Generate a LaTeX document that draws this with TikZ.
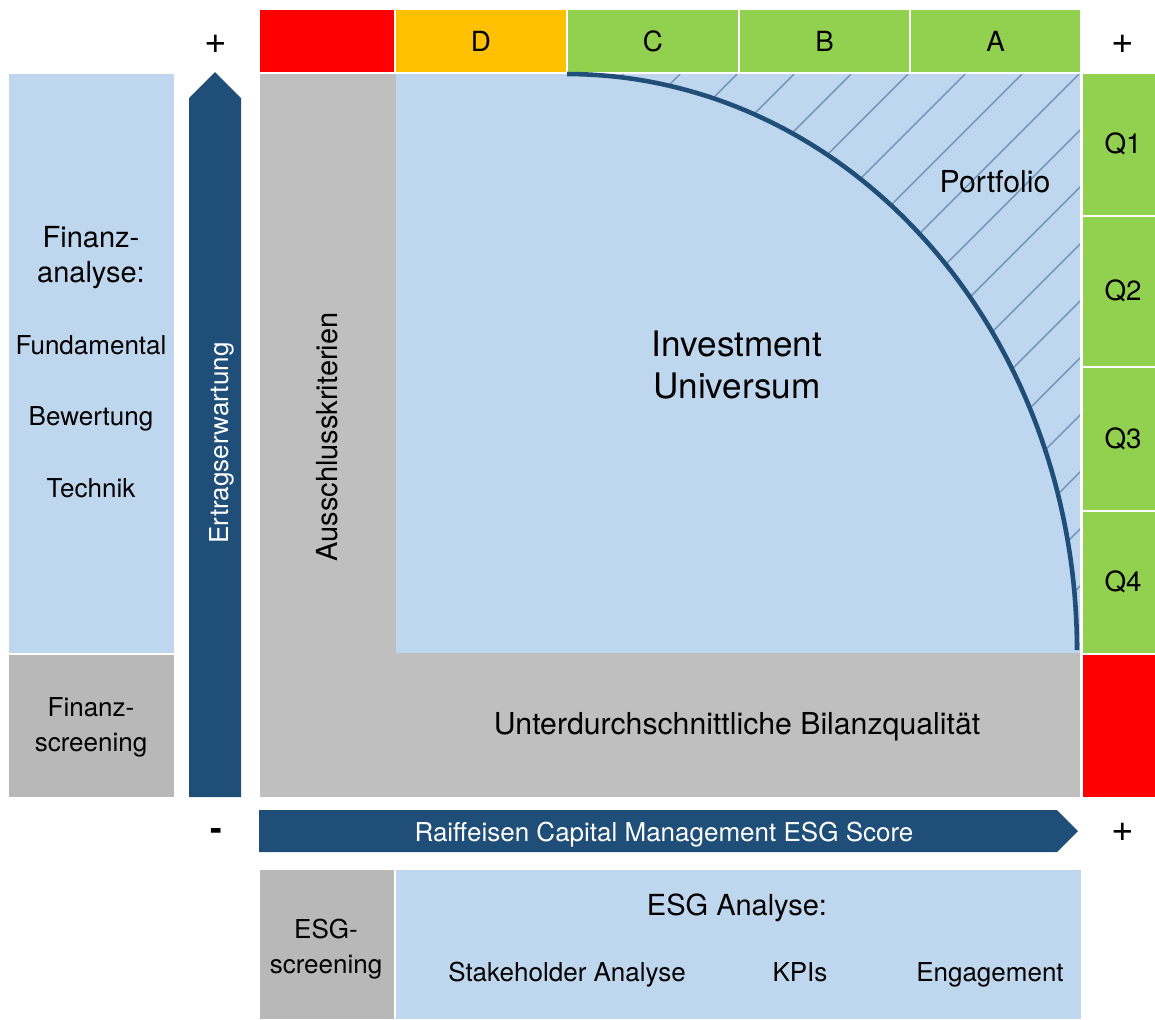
\documentclass[tikz,border=0pt]{standalone}
\usepackage{fontspec}
\setmainfont{TeX Gyre Heros}
\usepackage{xcolor}
\definecolor{colrouge}{rgb}{1,0,0}
\definecolor{colorange}{rgb}{1,0.753,0}
\definecolor{colvert}{rgb}{0.573,0.816,0.314}
\definecolor{colbleu}{rgb}{0.749,0.843,0.933}
\definecolor{colgris}{rgb}{0.749,0.749,0.749}
\definecolor{colgris2}{rgb}{0.722,0.722,0.722}
\definecolor{colbleuf}{rgb}{0.122,0.306,0.475}
\definecolor{colhach}{rgb}{0.435,0.573,0.722}

\begin{document}
\begin{tikzpicture}[x=0.02cm, y=-0.02cm,
		petit/.style={anchor=base, inner sep=0pt, font=\fontsize{14.8}{20}\selectfont},
		moyen/.style={anchor=base, inner sep=0pt, font=\fontsize{16.5}{20}\selectfont},
		lettre/.style={anchor=base, inner sep=0pt, font=\fontsize{15.8}{20}\selectfont},
		bloc/.style={inner sep=0pt, align=center, font=\fontsize{14.8}{20}\selectfont},
		signe/.style={inner sep=0pt, font=\fontsize{22}{24}\selectfont},
		hachure/.style={colhach, line width=0.8pt}]
	
	\useasboundingbox (0,0) rectangle (1155,1019);
	
	% Bandeau du haut (notes)
	\fill[colrouge]  (260,10) rectangle (394,72);
	\fill[colorange] (396,10) rectangle (566,72);
	\node[lettre] (D) at (481,51) {D};
	\foreach \xa/\xb/\lettre in {568/738/C, 740/909/B, 911/1080/A} {
		\fill[colvert] (\xa,10) rectangle (\xb,72);
		\node[lettre] (\lettre) at ({(\xa+\xb)/2},51) {\lettre};
	}
	
	% Colonne de droite (quartiles)
	\foreach \ya/\yb/\q in {74/215/1, 217/366/2, 368/510/3, 512/653/4} {
		\fill[colvert] (1083,\ya) rectangle (1155,\yb);
		\node[lettre] (q\q) at (1123,{(\ya+\yb)/2+9}) {Q\q};
	}
	\fill[colrouge] (1083,655) rectangle (1155,797);
	
	% Signes + et -
	\node[signe] (plusH) at (216,44) {+};
	\node[signe] (plusD) at (1123,44) {+};
	\node[signe] (plusB) at (1123,832) {+};
	\node[signe, font=\fontsize{20}{24}\selectfont\bfseries] (moins) at (216,834) {-};
	
	% Panneau de gauche
	\fill[colbleu]  (9,74) rectangle (174,653);
	\fill[colgris2] (9,655) rectangle (174,797);
	\node[bloc, font=\fontsize{16.5}{20}\selectfont] (fin) at (91,258) {Finanz-\\analyse:};
	\node[petit] (fond) at (91,354) {Fundamental};
	\node[petit] (bew)  at (91,425) {Bewertung};
	\node[petit] (tech) at (91,497) {Technik};
	\node[bloc] (finscr) at (91,727) {Finanz-\\screening};
	
	% Fleche verticale
	\fill[colbleuf] (189,797) -- (189,98) -- (215,72) -- (241,98) -- (241,797) -- cycle;
	\node[petit, anchor=base, rotate=90, text=white] (rend) at (228,443) {Ertragserwartung};
	
	% Zone grise en L et univers
	\fill[colgris] (260,74) rectangle (1080,797);
	\fill[colbleu] (396,74) rectangle (1080,653);
	\node[moyen, rotate=90] (excl) at (337,437) {Ausschlusskriterien};
	\node[moyen, font=\fontsize{17.2}{20}\selectfont] (bilan) at (737,734) {Unterdurchschnittliche Bilanzqualität};
	
	% Hachures du portefeuille
	\begin{scope}
		\clip (567,74) -- (1080,74) -- (1080,653)
			-- plot[domain=0:90, samples=80] ({567+510*cos(\x)},{650-576*sin(\x)}) -- cycle;
		\foreach \c in {697,754,...,1800}
			\draw[hachure] ({\c-74},74) -- ({\c-653},653);
	\end{scope}
	\draw[colbleuf, line width=2.6pt] plot[domain=0:90, samples=80] ({567+510*cos(\x)},{650-576*sin(\x)});
	\node[moyen, font=\fontsize{17.2}{20}\selectfont] (port) at (995,192) {Portfolio};
	\node[bloc, font=\fontsize{20}{24}\selectfont] (univ) at (737,365) {Investment\\Universum};
	
	% Fleche horizontale
	\fill[colbleuf] (259,810) -- (1057,810) -- (1078,831) -- (1057,852) -- (259,852) -- cycle;
	\node[petit, text=white] (score) at (664,841) {Raiffeisen Capital Management ESG Score};
	
	% Panneau du bas
	\fill[colgris2] (260,870) rectangle (394,1019);
	\fill[colbleu]  (396,870) rectangle (1081,1019);
	\node[bloc] (esgscr) at (326,949) {ESG-\\screening};
	\node[moyen] (esg) at (737,915) {ESG Analyse:};
	\node[petit] (stake) at (567,981) {Stakeholder Analyse};
	\node[petit] (kpi)   at (800,981) {KPIs};
	\node[petit] (eng)   at (990,981) {Engagement};
	
\end{tikzpicture}
\end{document}
